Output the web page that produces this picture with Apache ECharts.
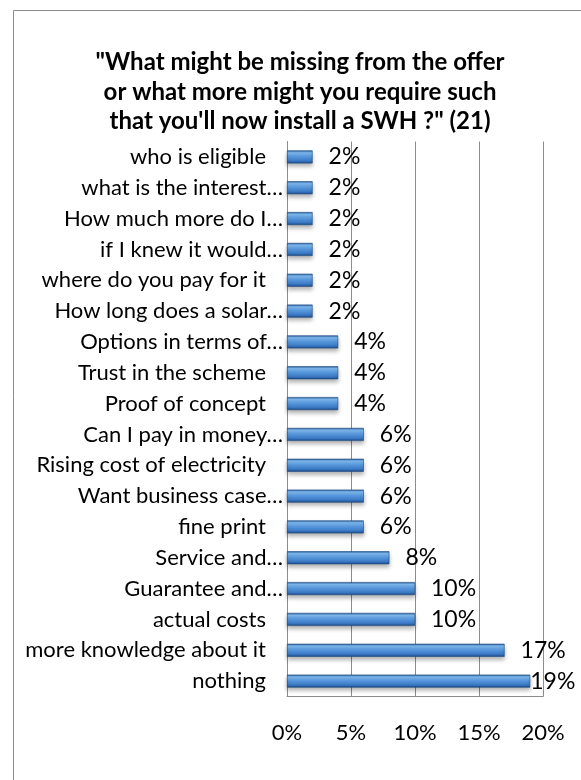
<!DOCTYPE html>
<html>
<head>
<meta charset="utf-8">
<script src="https://cdn.jsdelivr.net/npm/echarts@6/dist/echarts.min.js"></script>
<style>
  html, body { margin: 0; padding: 0; background: #ffffff; }
  #chart { width: 581px; height: 780px; }
</style>
</head>
<body>
<div id="chart"></div>
<script>
// Answers, top to bottom
const categories = [
  'who is eligible',
  'what is the interest…',
  'How much more do I…',
  'if I knew it would…',
  'where do you pay for it',
  'How long does a solar…',
  'Options in terms of…',
  'Trust in the scheme',
  'Proof of concept',
  'Can I pay in money…',
  'Rising cost of electricity',
  'Want business case…',
  'fine print',
  'Service and…',
  'Guarantee and…',
  'actual costs',
  'more knowledge about it',
  'nothing'
];
// Share of respondents, percent
const shares = [2, 2, 2, 2, 2, 2, 4, 4, 4, 6, 6, 6, 6, 8, 10, 10, 17, 19];
const tickValues = [0, 5, 10, 15, 20];

const titleText = '"What might be missing from the offer\nor what more might you require such\nthat you\'ll now install a SWH ?" (21)';

const FONT = 'Lato, "Open Sans", sans-serif';

const barFill = new echarts.graphic.LinearGradient(0, 0, 0, 1, [
  { offset: 0, color: '#2a5c9c' },
  { offset: 0.18, color: '#7fbaf0' },
  { offset: 0.45, color: '#5b9be0' },
  { offset: 0.8, color: '#3a78c4' },
  { offset: 1, color: '#1c4a86' }
]);

const chart = echarts.init(document.getElementById('chart'), null, { renderer: 'canvas' });

chart.setOption({
  backgroundColor: '#ffffff',
  animation: false,
  title: {
    text: titleText,
    left: 295,
    textAlign: 'center',
    top: 43,
    textStyle: {
      fontFamily: FONT,
      fontWeight: 'bold',
      fontSize: 24,
      lineHeight: 29.5,
      color: '#000000'
    }
  },
  graphic: [{
    type: 'rect',
    shape: { x: 13.5, y: 10.5, width: 700, height: 900 },
    style: { fill: 'none', stroke: '#8c8c8c', lineWidth: 1 },
    silent: true,
    z: -1
  }],
  grid: {
    left: 287,
    right: 38,
    top: 141.5,
    bottom: 83.5
  },
  xAxis: {
    type: 'value',
    min: 0,
    max: 20,
    interval: 5,
    axisLine: { show: true, lineStyle: { color: '#8c8c8c', width: 1 } },
    axisTick: { show: false },
    splitLine: { show: true, lineStyle: { color: '#8c8c8c', width: 1 } },
    axisLabel: {
      margin: 25,
      fontFamily: FONT,
      fontSize: 22,
      color: '#000000',
      customValues: tickValues,
      formatter: v => v + '%'
    }
  },
  yAxis: {
    type: 'category',
    inverse: true,
    data: categories,
    axisLine: { show: true, lineStyle: { color: '#8c8c8c', width: 1 } },
    axisTick: { show: false },
    axisLabel: {
      margin: 4,
      fontFamily: FONT,
      fontSize: 22,
      color: '#000000',
      formatter: t => t.endsWith('…') ? '{e|' + t + '}' : '{p|' + t + '}',
      rich: {
        e: { fontFamily: FONT, fontSize: 22, color: '#000000' },
        p: { fontFamily: FONT, fontSize: 22, color: '#000000', padding: [0, 17, 0, 0] }
      }
    }
  },
  series: [{
    type: 'bar',
    data: shares.map((v, i) => i === shares.length - 1
      ? { value: v, label: { offset: [-16, 0] } }
      : v),
    barWidth: 13,
    itemStyle: {
      color: barFill,
      borderColor: '#1d4a80',
      borderWidth: 0.6,
      shadowColor: 'rgba(0,0,0,0.3)',
      shadowBlur: 4,
      shadowOffsetY: 3
    },
    label: {
      show: true,
      position: 'right',
      distance: 16,
      fontFamily: FONT,
      fontSize: 23,
      color: '#000000',
      formatter: p => p.value + '%'
    }
  }]
});
</script>
</body>
</html>
